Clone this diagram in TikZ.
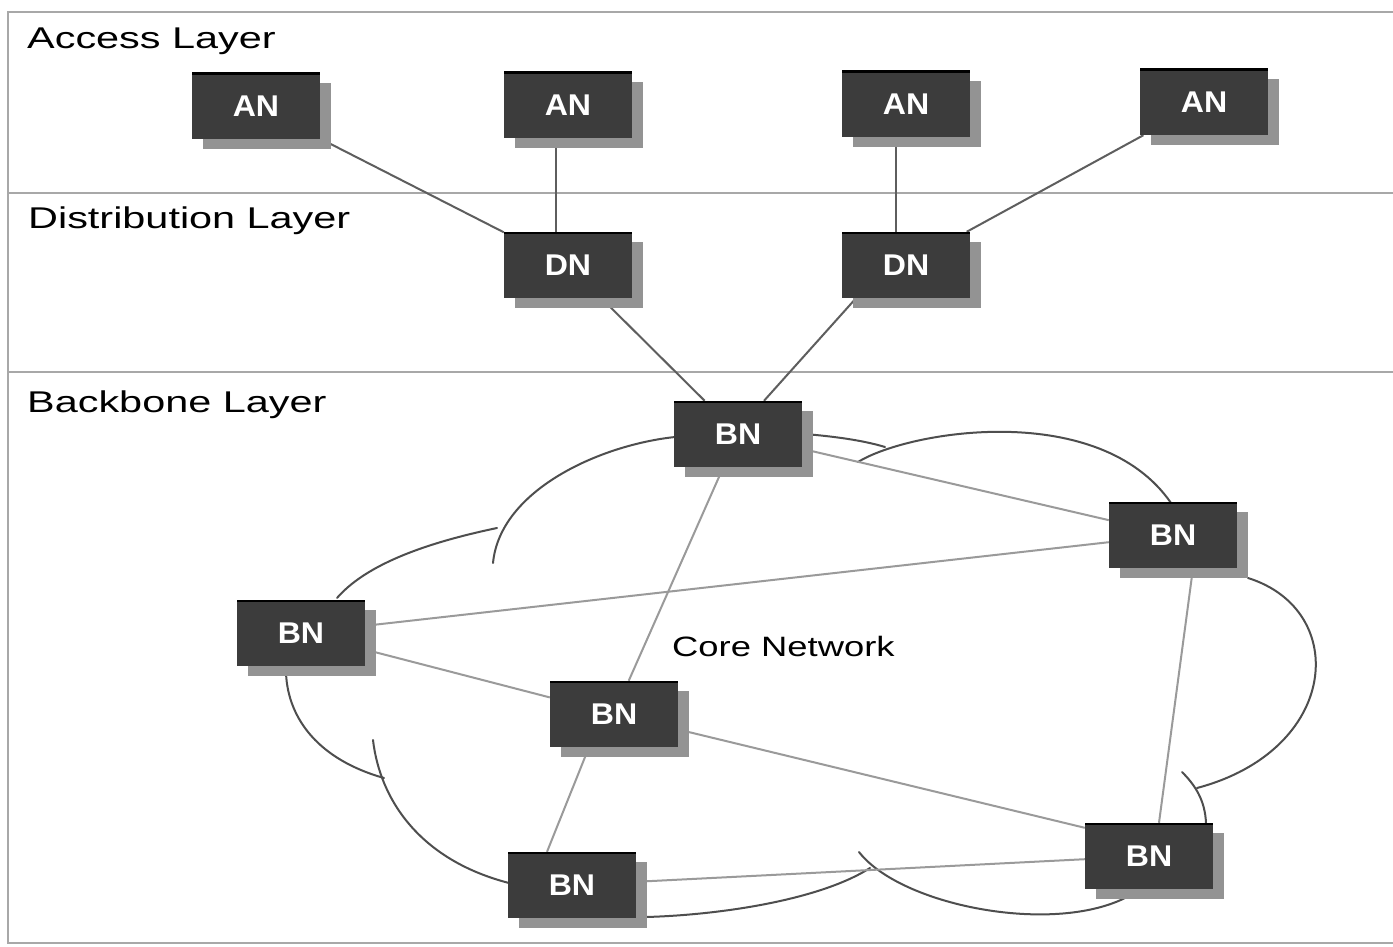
\documentclass[tikz,border=0pt]{standalone}
\usepackage{fontspec}
\usepackage{graphicx}
\setmainfont{Liberation Sans}
\usetikzlibrary{shadows,backgrounds}

\definecolor{boxfill}{HTML}{3C3C3C}
\definecolor{shadowgray}{HTML}{939393}
\definecolor{framegray}{HTML}{A8A8A8}
\definecolor{linkdark}{HTML}{5E5E5E}
\definecolor{linklight}{HTML}{9A9A9A}
\definecolor{cloudline}{HTML}{4E4E4E}

% horizontally widened text
\newcommand{\stretchx}[2]{\scalebox{#1}[1]{#2}}

\begin{document}
\begin{tikzpicture}[x=1pt,y=-1pt,
  netnode/.style={fill=boxfill, minimum width=128pt, minimum height=66pt,
    inner sep=0pt, text=white, font=\fontsize{30}{36}\selectfont\bfseries,
    drop shadow={shadow xshift=11pt, shadow yshift=-10pt, fill=shadowgray, opacity=1},
    path picture={\draw[black, line width=4pt]
      (path picture bounding box.north west) -- (path picture bounding box.north east);}},
  layerlabel/.style={anchor=base west, inner sep=0pt, font=\fontsize{30}{36}\selectfont},
  frameline/.style={draw=framegray, line width=2.5pt},
  uplink/.style={draw=linkdark, line width=2pt},
  corelink/.style={draw=linklight, line width=2pt},
  cloudarc/.style={draw=cloudline, line width=2pt, line cap=round}
]
\path[use as bounding box] (0,0) rectangle (1393,947);

% layer titles
\node[layerlabel] (lblaccess) at (27,49) {\stretchx{1.38}{Access Layer}};
\node[layerlabel] (lbldist) at (28,229) {\stretchx{1.38}{Distribution Layer}};
\node[layerlabel] (lblback) at (27,412) {\stretchx{1.38}{Backbone Layer}};
\node[anchor=base west, inner sep=0pt, font=\fontsize{28}{34}\selectfont] (lblcore)
  at (672,656) {\stretchx{1.3}{Core Network}};

% access nodes
\node[netnode] (an1) at (256,106) {\stretchx{1.07}{AN}};
\node[netnode] (an2) at (568,105) {\stretchx{1.07}{AN}};
\node[netnode] (an3) at (906,104) {\stretchx{1.07}{AN}};
\node[netnode] (an4) at (1204,102) {\stretchx{1.07}{AN}};

% distribution nodes
\node[netnode] (dn1) at (568,265) {\stretchx{1.07}{DN}};
\node[netnode] (dn2) at (906,265) {\stretchx{1.07}{DN}};

% backbone nodes
\node[netnode] (bnt) at (738,434) {\stretchx{1.07}{BN}};
\node[netnode] (bnr) at (1173,535) {\stretchx{1.07}{BN}};
\node[netnode] (bnl) at (301,633) {\stretchx{1.07}{BN}};
\node[netnode] (bnm) at (614,714) {\stretchx{1.07}{BN}};
\node[netnode] (bnbl) at (572,885) {\stretchx{1.07}{BN}};
\node[netnode] (bnbr) at (1149,856) {\stretchx{1.07}{BN}};

\begin{scope}[on background layer]
  % white page
  \fill[white] (0,0) rectangle (1393,947);

  % layer frame
  \draw[frameline] (1393,12) -- (8,12) -- (8,943) -- (1393,943);
  \draw[frameline] (8,193) -- (1393,193);
  \draw[frameline] (8,372) -- (1393,372);

  % core network cloud
  \draw[cloudarc] (675,437) .. controls (600,445) and (500,490) .. (493,563);
  \draw[cloudarc] (497,528) .. controls (440,540) and (370,560) .. (337,598);
  \draw[cloudarc] (286,673) .. controls (288,720) and (320,760) .. (384,778);
  \draw[cloudarc] (373,740) .. controls (380,800) and (420,860) .. (509,883);
  \draw[cloudarc] (646,917) .. controls (720,915) and (820,900) .. (870,868);
  \draw[cloudarc] (859,852) .. controls (900,905) and (1050,935) .. (1125,898);
  \draw[cloudarc] (1248,578) .. controls (1350,610) and (1340,750) .. (1197,788);
  \draw[cloudarc] (1182,772) .. controls (1195,785) and (1205,800) .. (1206,823);
  \draw[cloudarc] (805,434) .. controls (840,437) and (865,441) .. (885,447);
  \draw[cloudarc] (858,462) .. controls (910,430) and (1100,400) .. (1171,503);

  % access to distribution links
  \draw[uplink] (an1) -- (dn1);
  \draw[uplink] ([xshift=-12pt]an2.south) -- ([xshift=-12pt]dn1.north);
  \draw[uplink] ([xshift=-10pt]an3.south) -- ([xshift=-10pt]dn2.north);
  \draw[uplink] (an4) -- (dn2);

  % distribution to backbone links
  \draw[uplink] (dn1) -- (bnt);
  \draw[uplink] ([xshift=-50pt]dn2.south) -- ([xshift=26pt]bnt.north);

  % backbone mesh
  \draw[corelink] (bnt) -- (bnm);
  \draw[corelink] (bnt) -- (bnr);
  \draw[corelink] (bnl) -- (bnr);
  \draw[corelink] (bnl) -- (bnm);
  \draw[corelink] (bnm) -- ([yshift=-5pt]bnbr.north west);
  \draw[corelink] ([xshift=-25pt]bnm.south) -- ([xshift=-25pt]bnbl.north);
  \draw[corelink] ([xshift=20pt]bnr.south) -- ([xshift=10pt]bnbr.north);
  \draw[corelink] (bnbl) -- (bnbr);
\end{scope}
\end{tikzpicture}
\end{document}
